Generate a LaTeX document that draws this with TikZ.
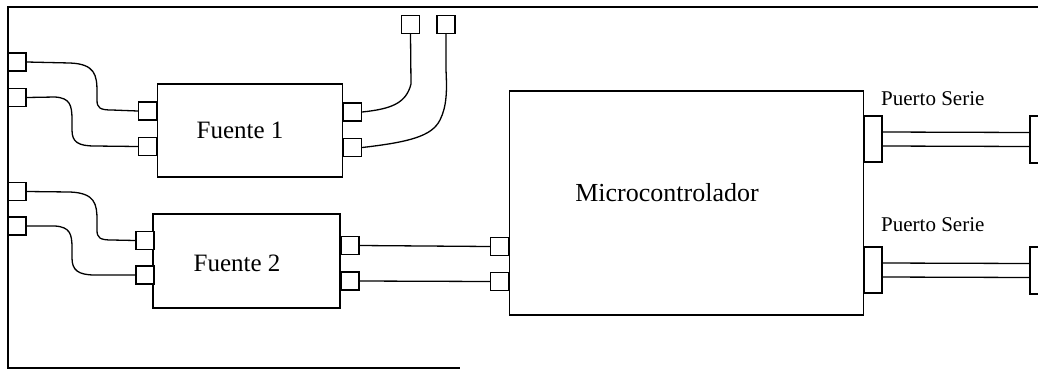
\documentclass[tikz,border=0pt]{standalone}
\usepackage{fontspec}
\setmainfont{Liberation Serif}
\begin{document}
\begin{tikzpicture}[x=1pt,y=-1pt,
  box/.style={draw,line width=1.5pt,inner sep=0pt},
  port/.style={draw,line width=1.4pt,fill=white,inner sep=0pt,minimum width=18pt,minimum height=18pt},
  wire/.style={line width=1.3pt}]
\useasboundingbox (0,0) rectangle (1038,370);
% frame
\draw[line width=1.6pt] (1038,7) -- (8,7) -- (8,368) -- (460,368);
% main boxes
\node[box,minimum width=185pt,minimum height=93pt] (f1) at (250,130.5) {};
\node[font=\fontsize{25}{30}\selectfont] (f1t) at (240,130) {Fuente 1};
\node[box,minimum width=187pt,minimum height=94pt] (f2) at (246.5,261) {};
\node[font=\fontsize{25}{30}\selectfont] (f2t) at (237,263) {Fuente 2};
\node[box,minimum width=354pt,minimum height=224pt] (mc) at (686.5,203) {};
\node[font=\fontsize{26}{30}\selectfont] (mct) at (667,193) {Microcontrolador};
% left ports
\node[port] (l1) at (17,62) {};
\node[port] (l2) at (17,97.5) {};
\node[port] (l3) at (17,191.5) {};
\node[port] (l4) at (17,226) {};
% fuente 1 ports
\node[port] (f1a) at (147.5,111) {};
\node[port] (f1b) at (147.5,146.5) {};
\node[port] (f1c) at (352.5,112) {};
\node[port] (f1d) at (352.5,147.5) {};
% top ports
\node[port] (t1) at (410.5,24.5) {};
\node[port] (t2) at (446,24.5) {};
% fuente 2 ports
\node[port] (f2a) at (145,240.5) {};
\node[port] (f2b) at (145,275) {};
\node[port] (f2c) at (350,245.5) {};
\node[port] (f2d) at (350,281) {};
% micro left ports
\node[port] (ma) at (499.5,246.5) {};
\node[port] (mb) at (499.5,281.5) {};
% micro serial ports
\node[port,minimum height=46pt] (s1) at (873,139) {};
\node[port,minimum height=46pt] (s2) at (873,270) {};
\node[port,minimum height=47pt] (e1) at (1039,139.5) {};
\node[port,minimum height=47pt] (e2) at (1039,270.5) {};
\node[font=\fontsize{21}{24}\selectfont,anchor=west,inner sep=0pt] (p1) at (881,99) {Puerto Serie};
\node[font=\fontsize{21}{24}\selectfont,anchor=west,inner sep=0pt] (p2) at (881,225) {Puerto Serie};
% wires left to fuente 1
\draw[wire] (l1.east) -- (70,63) .. controls (95,64) and (97,75) .. (97,92) -- (97,100) .. controls (97,108) and (100,110) .. (112,110) -- (f1a.west);
\draw[wire] (l2.east) -- (55,97) .. controls (70,98) and (72,105) .. (72,120) -- (72,130) .. controls (72,142) and (78,146) .. (95,146) -- (f1b.west);
% wires left to fuente 2
\draw[wire] (l3.east) -- (70,192) .. controls (95,193) and (97,204) .. (97,220) -- (97,230) .. controls (97,238) and (100,240) .. (112,240) -- (f2a.west);
\draw[wire] (l4.east) -- (55,226) .. controls (70,227) and (72,234) .. (72,248) -- (72,258) .. controls (72,270) and (78,275) .. (95,275) -- (f2b.west);
% fuente 1 to top
\draw[wire] (f1c.east) .. controls (390,109) and (406,104) .. (411,84) -- (t1.south);
\draw[wire] (f1d.east) .. controls (410,142) and (432,136) .. (440,120) .. controls (447,106) and (447,90) .. (446,70) -- (t2.south);
% fuente 2 to micro
\draw[wire] (f2c.east) -- (ma.west);
\draw[wire] (f2d.east) -- (mb.west);
% serial double lines
\draw[wire] ([yshift=-7pt]s1.east) -- ([yshift=-7pt]e1.west);
\draw[wire] ([yshift=7pt]s1.east) -- ([yshift=7pt]e1.west);
\draw[wire] ([yshift=-7pt]s2.east) -- ([yshift=-7pt]e2.west);
\draw[wire] ([yshift=7pt]s2.east) -- ([yshift=7pt]e2.west);
\end{tikzpicture}
\end{document}
